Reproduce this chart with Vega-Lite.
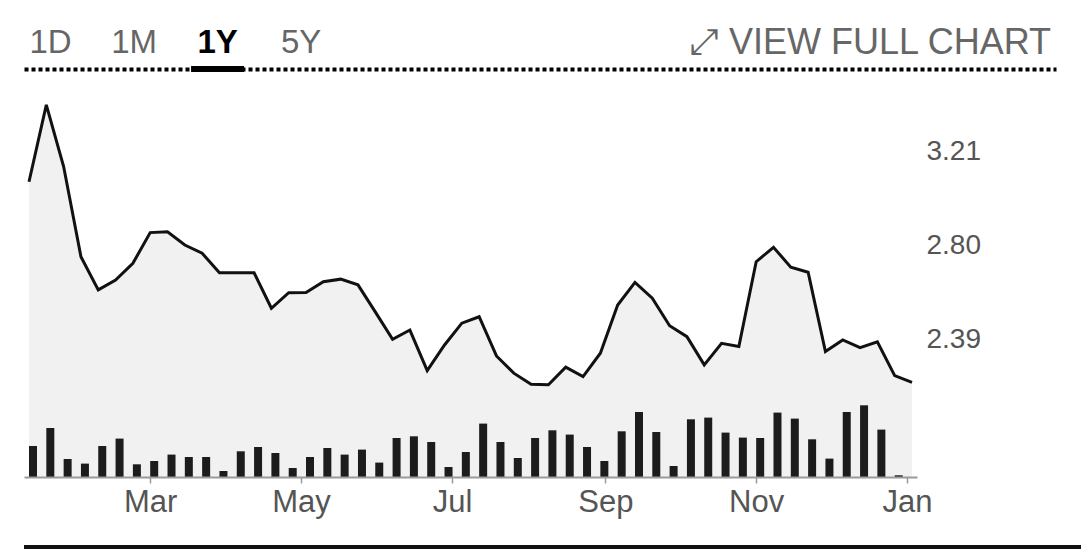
{
  "$schema": "https://vega.github.io/schema/vega-lite/v6.json",
  "background": "white",
  "padding": {"left": 23, "top": 25, "right": 0, "bottom": 0},
  "config": {"view": {"stroke": null}, "font": "Liberation Sans"},
  "spacing": 28,
  "vconcat": [
    {
      "spacing": 18,
      "vconcat": [
        {
          "width": 1032,
          "height": 6,
          "layer": [
            {
              "data": {"values": [{"tab": "1D"}, {"tab": "1M"}, {"tab": "1Y"}, {"tab": "5Y"}]},
              "transform": [{"filter": "datum.tab === '1Y'"}],
              "mark": {"type": "bar", "color": "black"},
              "encoding": {
                "x": {
                  "field": "tab", "type": "nominal", "sort": null,
                  "scale": {"type": "band", "domain": ["1D", "1M", "1Y", "5Y", "s5", "s6", "s7", "s8", "s9", "s10", "s11", "s12"], "paddingInner": 0.365, "paddingOuter": 0.36, "align": 0},
                  "axis": {
                    "orient": "top", "title": null, "ticks": false, "tickSize": 0,
                    "values": ["1D", "1M", "1Y", "5Y"],
                    "domainColor": "black", "domainWidth": 4, "domainDash": [4, 3],
                    "labelFontSize": 33, "labelAngle": 0, "labelPadding": 10, "offset": -3,
                    "labelColor": {"condition": {"test": "datum.value === '1Y'", "value": "#000000"}, "value": "#666666"},
                    "labelFontWeight": {"condition": {"test": "datum.value === '1Y'", "value": "bold"}, "value": "normal"}
                  }
                }
              }
            },
            {
              "data": {"values": [{"link": "⤢  VIEW FULL CHART"}]},
              "mark": {"type": "text", "align": "right", "baseline": "alphabetic", "fontSize": 36, "color": "#666666", "dy": -15, "dx": -5},
              "encoding": {
                "x": {"field": "link", "type": "nominal", "scale": {"type": "point", "padding": 0, "align": 1}, "axis": null},
                "text": {"field": "link"}
              }
            }
          ],
          "resolve": {"scale": {"x": "independent"}}
        },
        {
          "width": 893,
          "height": 387,
          "data": {"values": [
            {"date": "2019-01-11", "price": 3.079, "volume": 3.1},
            {"date": "2019-01-18", "price": 3.414, "volume": 4.9},
            {"date": "2019-01-25", "price": 3.145, "volume": 1.8},
            {"date": "2019-02-01", "price": 2.752, "volume": 1.34},
            {"date": "2019-02-08", "price": 2.607, "volume": 3.1},
            {"date": "2019-02-15", "price": 2.650, "volume": 3.84},
            {"date": "2019-02-22", "price": 2.723, "volume": 1.27},
            {"date": "2019-03-01", "price": 2.857, "volume": 1.6},
            {"date": "2019-03-08", "price": 2.861, "volume": 2.24},
            {"date": "2019-03-15", "price": 2.803, "volume": 2.0},
            {"date": "2019-03-22", "price": 2.767, "volume": 2.0},
            {"date": "2019-03-29", "price": 2.682, "volume": 0.6},
            {"date": "2019-04-05", "price": 2.682, "volume": 2.57},
            {"date": "2019-04-12", "price": 2.682, "volume": 3.0},
            {"date": "2019-04-19", "price": 2.527, "volume": 2.4},
            {"date": "2019-04-26", "price": 2.595, "volume": 0.9},
            {"date": "2019-05-03", "price": 2.596, "volume": 2.0},
            {"date": "2019-05-10", "price": 2.643, "volume": 2.9},
            {"date": "2019-05-17", "price": 2.654, "volume": 2.24},
            {"date": "2019-05-24", "price": 2.629, "volume": 2.74},
            {"date": "2019-05-31", "price": 2.511, "volume": 1.44},
            {"date": "2019-06-07", "price": 2.392, "volume": 3.9},
            {"date": "2019-06-14", "price": 2.432, "volume": 4.07},
            {"date": "2019-06-21", "price": 2.255, "volume": 3.5},
            {"date": "2019-06-28", "price": 2.367, "volume": 1.0},
            {"date": "2019-07-05", "price": 2.462, "volume": 2.5},
            {"date": "2019-07-12", "price": 2.490, "volume": 5.34},
            {"date": "2019-07-19", "price": 2.319, "volume": 3.5},
            {"date": "2019-07-26", "price": 2.244, "volume": 1.9},
            {"date": "2019-08-02", "price": 2.196, "volume": 3.9},
            {"date": "2019-08-09", "price": 2.193, "volume": 4.67},
            {"date": "2019-08-16", "price": 2.270, "volume": 4.24},
            {"date": "2019-08-23", "price": 2.229, "volume": 3.0},
            {"date": "2019-08-30", "price": 2.331, "volume": 1.6},
            {"date": "2019-09-06", "price": 2.541, "volume": 4.57},
            {"date": "2019-09-13", "price": 2.640, "volume": 6.5},
            {"date": "2019-09-20", "price": 2.571, "volume": 4.5},
            {"date": "2019-09-27", "price": 2.451, "volume": 1.1},
            {"date": "2019-10-04", "price": 2.403, "volume": 5.77},
            {"date": "2019-10-11", "price": 2.280, "volume": 5.94},
            {"date": "2019-10-18", "price": 2.374, "volume": 4.44},
            {"date": "2019-10-25", "price": 2.360, "volume": 3.94},
            {"date": "2019-11-01", "price": 2.730, "volume": 3.9},
            {"date": "2019-11-08", "price": 2.793, "volume": 6.44},
            {"date": "2019-11-15", "price": 2.706, "volume": 5.84},
            {"date": "2019-11-22", "price": 2.684, "volume": 3.77},
            {"date": "2019-11-29", "price": 2.338, "volume": 1.84},
            {"date": "2019-12-06", "price": 2.389, "volume": 6.5},
            {"date": "2019-12-13", "price": 2.355, "volume": 7.17},
            {"date": "2019-12-20", "price": 2.381, "volume": 4.74},
            {"date": "2019-12-27", "price": 2.233, "volume": 0.17},
            {"date": "2020-01-03", "price": 2.204}
          ]},
          "encoding": {
            "x": {
              "field": "date", "type": "temporal",
              "scale": {"domain": ["2019-01-11", "2020-01-03"]},
              "axis": {
                "title": null, "grid": false, "format": "%b", "zindex": 1,
                "values": [
                  {"year": 2019, "month": 3, "date": 1},
                  {"year": 2019, "month": 5, "date": 1},
                  {"year": 2019, "month": 7, "date": 1},
                  {"year": 2019, "month": 9, "date": 1},
                  {"year": 2019, "month": 11, "date": 1},
                  {"year": 2020, "month": 1, "date": 1}
                ],
                "labelFontSize": 31, "labelColor": "#555555", "labelPadding": 4,
                "domainColor": "#9a9a9a", "domainWidth": 2,
                "tickColor": "#9a9a9a", "tickSize": 6, "tickWidth": 1.5,
                "labelFlush": false, "labelOverlap": false
              }
            }
          },
          "layer": [
            {
              "mark": {"type": "area", "color": "#f1f1f1"},
              "encoding": {
                "y": {
                  "field": "price", "type": "quantitative",
                  "scale": {"domain": [1.791, 3.479], "zero": false, "nice": false, "clamp": true},
                  "axis": {
                    "orient": "right", "title": null, "grid": false, "ticks": false, "domain": false,
                    "values": [2.39, 2.8, 3.21], "format": ".2f",
                    "labelFontSize": 28, "labelColor": "#555555", "labelPadding": 9
                  }
                }
              }
            },
            {
              "mark": {"type": "bar", "color": "#1c1c1c", "width": 8, "xOffset": 4},
              "encoding": {
                "y": {"field": "volume", "type": "quantitative", "scale": {"domain": [0, 38.7]}, "axis": null}
              }
            },
            {
              "mark": {"type": "line", "color": "#111111", "strokeWidth": 3},
              "encoding": {
                "y": {"field": "price", "type": "quantitative", "scale": {"domain": [1.791, 3.479], "zero": false, "nice": false}, "axis": null}
              }
            }
          ],
          "resolve": {"scale": {"y": "independent"}}
        }
      ]
    },
    {
      "width": 1058,
      "height": 4,
      "view": {"fill": "#111111"},
      "data": {"values": [{"edge": "bottom"}]},
      "mark": {"type": "rect", "color": "#111111"},
      "encoding": {}
    }
  ]
}
